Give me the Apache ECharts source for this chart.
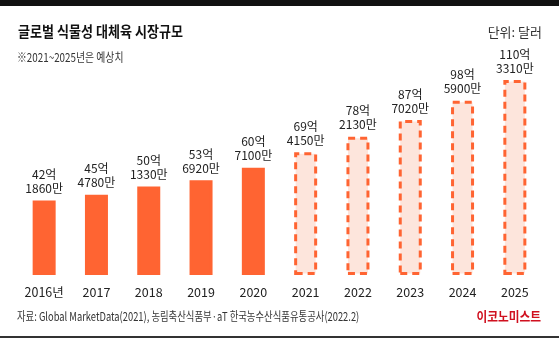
<!DOCTYPE html>
<html>
<head>
<meta charset="utf-8">
<script src="https://cdn.jsdelivr.net/npm/echarts@6/dist/echarts.min.js"></script>
<style>
  html, body { margin: 0; padding: 0; background: #fff; }
  #chart { width: 559px; height: 339px; }
</style>
</head>
<body>
<div id="chart"></div>
<script>
// Global plant-based meat market size (unit: USD), 억 + 만 parts
const years = ['2016년', '2017', '2018', '2019', '2020', '2021', '2022', '2023', '2024', '2025'];
const eok = [42, 45, 50, 53, 60, 69, 78, 87, 98, 110];
const man = [1860, 4780, 1330, 6920, 7100, 4150, 2130, 7020, 5900, 3310];
const forecastFrom = 5; // 2021~2025 are projections

const FONT = '"Noto Sans CJK KR", "Noto Sans", sans-serif';
const ORANGE = '#ff6432';

const data = eok.map((e, i) => {
  const v = e + man[i] / 10000;
  const projected = i >= forecastFrom;
  return {
    value: v,
    itemStyle: projected
      ? { color: '#fde5dc', borderColor: ORANGE, borderWidth: 3, borderType: [7, 5] }
      : { color: ORANGE, borderColor: ORANGE, borderWidth: 3 }
  };
});

function txt(x, y, text, font, fill, align, sx) {
  return {
    type: 'text', x: x, y: y, scaleX: sx || 1,
    style: { text: text, font: font, fill: fill, textAlign: align || 'left', textVerticalAlign: 'middle' }
  };
}

const chart = echarts.init(document.getElementById('chart'), null, { renderer: 'canvas' });
chart.setOption({
  backgroundColor: '#fff',
  animation: false,
  grid: { left: 18, right: 18, top: 63, bottom: 64 },
  xAxis: {
    type: 'category',
    data: years,
    axisLine: { show: false },
    axisTick: { show: false },
    axisLabel: { interval: 0, color: '#222', fontSize: 12.5, fontFamily: FONT, margin: 11 }
  },
  yAxis: {
    type: 'value',
    min: 0,
    max: 120,
    show: false,
    splitLine: { show: false }
  },
  series: [{
    type: 'bar',
    data: data,
    barWidth: 23,
    label: {
      show: true,
      position: 'top',
      distance: 5,
      color: '#222',
      fontSize: 12,
      lineHeight: 14,
      fontFamily: FONT,
      formatter: p => eok[p.dataIndex] + '억\n' + man[p.dataIndex] + '만'
    }
  }],
  graphic: [
    { type: 'rect', shape: { x: 0, y: 0, width: 559, height: 6 }, style: { fill: '#111' } },
    { type: 'rect', shape: { x: 0, y: 336, width: 559, height: 2 }, style: { fill: '#333' } },
    txt(18, 31.5, '글로벌 식물성 대체육 시장규모', 'bold 15px ' + FONT, '#111', 'left', 0.87),
    txt(17, 57, '※2021~2025년은 예상치', '12px ' + FONT, '#333', 'left', 0.82),
    txt(542, 32, '단위: 달러', '13px ' + FONT, '#333', 'right', 1),
    txt(17, 316, '자료: Global MarketData(2021), 농림축산식품부·aT 한국농수산식품유통공사(2022.2)', '12px ' + FONT, '#333', 'left', 0.78),
    txt(541, 316.5, '이코노미스트', 'bold 13px ' + FONT, '#d0101f', 'right', 0.9)
  ]
});
</script>
</body>
</html>
